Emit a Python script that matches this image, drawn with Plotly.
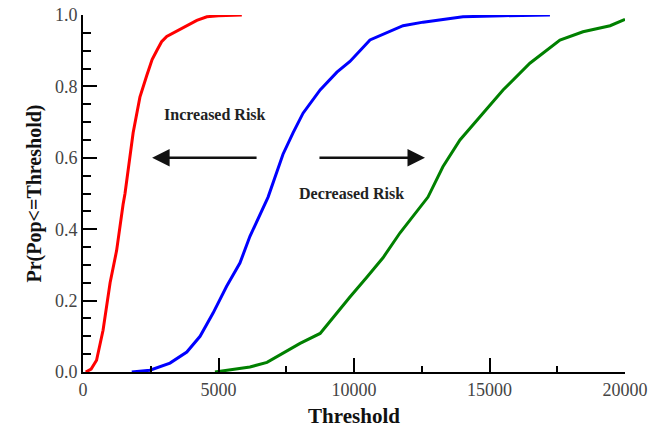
import plotly.graph_objects as go

red_x = [100, 300, 500, 740, 1000, 1240, 1480, 1550, 1850, 2100, 2350, 2550, 2720, 2900, 3090, 3450, 3830, 4200, 4570, 5000, 5860]
red_y = [0.0, 0.008, 0.033, 0.117, 0.25, 0.34, 0.47, 0.5, 0.67, 0.77, 0.83, 0.875, 0.90, 0.925, 0.94, 0.955, 0.97, 0.985, 0.995, 0.998, 1.0]

blue_x = [1800, 2470, 3210, 3830, 4320, 4800, 5300, 5790, 6160, 6830, 7380, 7750, 8120, 8750, 9370, 9850, 10590, 11810, 12550, 14020, 15500, 17230]
blue_y = [0.0, 0.005, 0.025, 0.056, 0.10, 0.165, 0.24, 0.305, 0.38, 0.49, 0.61, 0.67, 0.725, 0.79, 0.84, 0.87, 0.93, 0.97, 0.98, 0.995, 0.998, 1.0]

green_x = [4870, 6160, 6790, 7380, 8010, 8750, 9230, 9850, 10480, 11070, 11700, 12320, 12730, 13280, 13910, 14760, 15500, 16490, 17600, 18450, 19450, 20000]
green_y = [0.0, 0.014, 0.027, 0.052, 0.08, 0.108, 0.153, 0.21, 0.266, 0.32, 0.39, 0.45, 0.49, 0.575, 0.65, 0.725, 0.79, 0.865, 0.93, 0.953, 0.97, 0.988]

x_ticks = [0, 5000, 10000, 15000, 20000]
y_ticks = [0.0, 0.2, 0.4, 0.6, 0.8, 1.0]

FONT = "Liberation Serif"

fig = go.Figure()
for xs, ys, c in [(red_x, red_y, "#ff0000"), (blue_x, blue_y, "#0000ff"), (green_x, green_y, "#008000")]:
    fig.add_trace(go.Scatter(x=xs, y=ys, mode="lines", line=dict(color=c, width=3), showlegend=False, cliponaxis=False))

axis_common = dict(
    showgrid=False, zeroline=False, showline=True, linecolor="black", linewidth=2,
    ticks="inside", ticklen=14, tickwidth=2, tickcolor="black", mirror=False, automargin=False,
    ticklabeloverflow="allow",
    tickfont=dict(family=FONT, size=18, color="#444444"),
)

fig.update_xaxes(range=[0, 20000], tickvals=x_ticks, ticktext=[str(v) for v in x_ticks],
                 minor=dict(dtick=2500, tick0=0, ticks="inside", ticklen=6, tickwidth=2, tickcolor="black"),
                 title=dict(text="<b>Threshold</b>", font=dict(family=FONT, size=21, color="#111111"), standoff=10),
                 **axis_common)
fig.update_yaxes(range=[0, 1.0], tickvals=y_ticks, ticktext=[f"{v:.1f}" for v in y_ticks],
                 minor=dict(dtick=0.05, tick0=0, ticks="inside", ticklen=8, tickwidth=2, tickcolor="black"),
                 title=dict(text="<b>Pr(Pop<=Threshold)</b>", font=dict(family=FONT, size=20, color="#111111"), standoff=8),
                 **axis_common)

ann_font = dict(family=FONT, size=16, color="#222222")
fig.add_annotation(x=4870, y=0.72, text="<b>Increased Risk</b>", showarrow=False, font=ann_font, xref="x", yref="y")
fig.add_annotation(x=9890, y=0.50, text="<b>Decreased Risk</b>", showarrow=False, font=ann_font, xref="x", yref="y")
fig.add_annotation(x=2550, y=0.6, ax=6460, ay=0.6, axref="x", ayref="y", xref="x", yref="y", text="",
                   showarrow=True, arrowhead=2, arrowsize=1.4, arrowwidth=2.5, arrowcolor="#111111")
fig.add_annotation(x=12620, y=0.6, ax=8670, ay=0.6, axref="x", ayref="y", xref="x", yref="y", text="",
                   showarrow=True, arrowhead=2, arrowsize=1.4, arrowwidth=2.5, arrowcolor="#111111")

fig.update_layout(width=650, height=435, margin=dict(l=83, r=25, t=15, b=63),
                  plot_bgcolor="white", paper_bgcolor="white")
fig.write_html("out.html", config={"displayModeBar": False},
               post_script="document.body.style.margin='0';document.body.style.overflow='hidden';")
